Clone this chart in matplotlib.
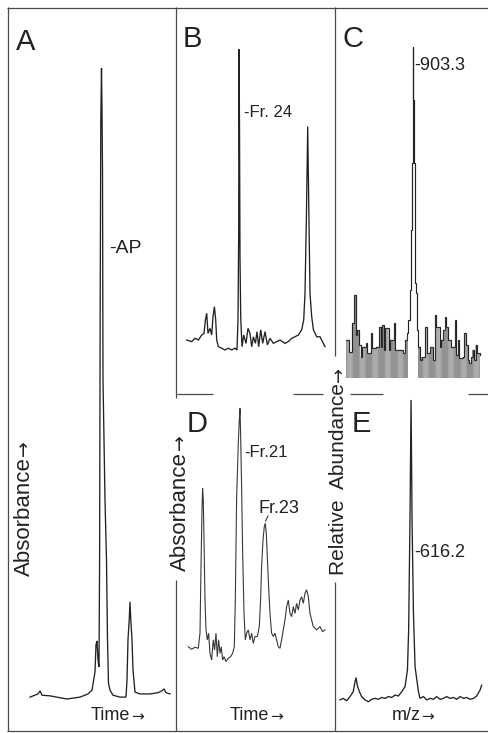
import matplotlib
matplotlib.use("Agg")
import matplotlib.pyplot as plt
import numpy as np

plt.rcParams["font.family"] = ["Liberation Sans", "DejaVu Sans"]

# ---- data -----------------------------------------------------------------
# A: HPLC trace, time (arb.) vs absorbance (% of AP peak)
a_time = [0, 8, 10, 12, 20, 30, 37, 50, 58, 62, 65, 66, 67, 68, 69, 69.6,
          70.2, 70.8, 71.5, 72, 72.5, 73, 75, 76.5, 77.5, 78.5, 80, 83, 90,
          96, 97, 98, 99.3, 100, 100.8, 102, 103, 105, 110, 120, 128, 132,
          134, 136, 140]
a_abs = [0.3, 0.8, 1.3, 0.6, 0.5, 0.2, 0, 0.3, 0.8, 1.4, 4.3, 8.6, 9.2, 6.2,
         5.1, 22.0, 63.2, 91.8, 100, 93.3, 83.8, 50.6, 31.5, 22.0, 9.4, 2.5,
         1.4, 0.6, 0.3, 0.3, 3.0, 9.4, 12.8, 15.4, 12.5, 9.4, 4.6, 1.1, 0.8,
         0.8, 1.0, 1.3, 1.6, 1.0, 0.8]

# B: rechromatography of the AP peak
b_time = [0, 5, 8.3, 11.7, 15, 17.3, 18.7, 20, 21.3, 23.3, 25, 26.3, 27.7,
          29, 30, 31.7, 35, 38.3, 41.7, 45, 48.3, 50.3, 51.3, 52, 52.3, 52.8,
          53.3, 54, 55.3, 57, 59.3, 61.3, 63.3, 65, 66.7, 68.7, 70.3, 72, 74,
          76, 78.3, 80.7, 83.3, 86.7, 90, 93.3, 98.3, 101.7, 105, 108.3,
          111.7, 115, 117, 118.3, 119.7, 121, 122, 123.3, 125, 126.7, 130,
          133.3, 135, 138.3]
b_abs = [3.3, 2.8, 3.9, 3.3, 5.0, 5.5, 10.0, 12.2, 5.5, 7.2, 5.0, 11.1, 14.4,
         10.0, 3.3, 1.1, 0.6, 0, 0.6, 0, 0.6, 0, 10.0, 38.8, 100, 74.3, 31.0,
         11.1, 1.1, 5.0, 2.2, 7.2, 5.5, 1.1, 4.4, 2.2, 6.1, 1.1, 6.7, 2.2, 6.1,
         1.7, 3.9, 2.2, 2.8, 3.3, 2.2, 2.8, 3.9, 4.4, 5.0, 6.7, 10.0, 18.8,
         44.3, 74.3, 49.9, 18.8, 11.1, 6.7, 4.4, 4.4, 3.3, 1.1]

# C: mass spectrum of Fr. 24 (upper envelope of the scan)
c_mz = [869.5, 871.1, 872.8, 873.6, 874.4, 875.3, 876.1, 877.0, 877.8, 879.5,
        880.3, 882.0, 882.8, 884.5, 886.1, 887.0, 887.8, 888.6, 889.5, 891.1,
        892.0, 893.6, 894.5, 896.1, 897.8, 898.6, 899.5, 900.3, 901.1, 902.0,
        902.5, 903.0, 903.3, 903.6, 904.0, 904.5, 905.0, 905.6, 906.1, 907.0,
        907.8, 909.5, 910.3, 912.0, 913.6, 914.5, 915.3, 917.0, 917.8, 918.6,
        919.5, 920.3, 921.1, 922.8, 924.5, 925.3, 926.1, 927.0, 928.6, 929.5,
        930.3, 931.1, 932.0, 932.8, 933.6, 934.5, 935.3, 936.1, 937.4]
c_int = [11.5, 7.8, 16.6, 25.1, 13.0, 14.5, 10.0, 6.3, 9.4, 10.6, 7.5, 13.6,
         9.1, 9.4, 15.4, 9.4, 16.0, 8.5, 15.1, 8.5, 11.5, 16.6, 8.5, 8.5, 8.5,
         7.5, 11.5, 13.6, 17.5, 26.6, 44.7, 64.9, 100, 83.9, 64.9, 28.7, 25.7,
         14.5, 9.4, 5.4, 6.3, 15.4, 7.5, 9.4, 5.4, 19.0, 15.4, 9.4, 11.5, 14.5,
         18.4, 15.4, 11.5, 9.4, 17.5, 6.9, 11.5, 6.0, 6.3, 13.6, 10.0, 5.4,
         4.5, 6.3, 8.5, 5.4, 10.0, 7.5, 6.9]

# D: second HPLC run
d_time = [0, 3.3, 6.7, 10, 11.7, 12.7, 13.7, 14.3, 15, 15.7, 16.7, 17.7, 19,
          20.3, 21.7, 23.3, 25, 26.3, 27.7, 29, 30.3, 31.7, 33, 34.3, 35.7,
          37.7, 40, 42.3, 44.3, 46, 47, 48.3, 50, 51, 51.7, 52.3, 53.3, 54.3,
          55.7, 57, 58.3, 60, 61.7, 63.3, 65, 66.7, 69, 71, 72.3, 73.3, 74.7,
          76, 77, 78, 79, 80.3, 81.7, 83.3, 85, 86.7, 88.3, 90, 91.7, 93.3, 95,
          96.7, 98.3, 100, 101.7, 103.3, 105, 106.7, 108.3, 110, 111.7, 113.3,
          115, 116.7, 118.3, 120, 121.7, 123.3, 125, 128.3, 131.7, 134.3,
          136.7]
d_abs = [6.5, 5.5, 6.3, 5.9, 11.8, 37.9, 60.1, 68.6, 64.1, 48.4, 24.8, 13.1,
         9.2, 11.8, 3.9, 1.3, 9.2, 5.2, 11.8, 2.6, 9.2, 3.9, 6.5, 1.3, 2.6,
         0.7, 2.0, 2.6, 3.9, 6.5, 24.8, 64.1, 86.3, 95.4, 100, 90.2, 69.3,
         44.4, 19.6, 9.2, 11.8, 13.1, 9.2, 11.8, 7.8, 10.5, 10.5, 14.4, 24.8,
         37.9, 48.4, 53.6, 54.9, 51.0, 41.8, 30.1, 19.6, 11.8, 10.5, 11.8, 9.2,
         6.5, 5.9, 9.2, 13.1, 17.0, 22.2, 24.8, 19.6, 18.3, 22.2, 19.6, 23.5,
         20.9, 24.8, 26.1, 23.5, 27.5, 28.8, 26.1, 19.6, 17.0, 14.4, 13.1,
         14.4, 12.4, 13.1]

# E: mass spectrum of Fr. 21
e_mz = [580.7, 582.3, 584.0, 585.7, 587.3, 588.2, 588.7, 589.3, 590.4, 591.5,
        593.2, 594.9, 596.5, 598.2, 599.9, 601.5, 603.2, 604.9, 606.5, 608.2,
        609.9, 611.5, 613.2, 614.4, 615.0, 615.7, 616.2, 616.7, 617.4, 618.2,
        619.1, 619.9, 620.7, 622.4, 624.0, 625.7, 627.4, 629.0, 630.7, 632.4,
        634.0, 635.7, 637.4, 639.0, 640.7, 642.4, 644.0, 645.7, 647.4, 649.0,
        650.7, 651.5]
e_int = [0.6, 1.1, 0.3, 1.7, 3.3, 6.6, 8.0, 5.5, 3.3, 1.7, 0.6, 0, 0.8, 1.1,
         0.8, 1.4, 1.1, 1.7, 1.4, 2.2, 1.9, 3.3, 5.0, 10.5, 23.8, 62.4, 100,
         60.2, 29.3, 11.6, 7.2, 3.3, 1.1, 1.7, 0.6, 1.1, 0.8, 1.7, 0.8, 1.1,
         1.7, 1.1, 1.4, 0.8, 1.7, 1.1, 1.4, 0.8, 1.1, 1.9, 3.9, 5.5]

W, H = 489, 733
INK = "#222222"
RULE = "#4a4a4a"

fig = plt.figure(figsize=(W / 100, H / 100), dpi=100)
fig.patch.set_facecolor("white")

# overlay in pixel units for frame rules and lettering
frame = fig.add_axes([0, 0, 1, 1])
frame.set_xlim(0, W)
frame.set_ylim(H, 0)
frame.set_axis_off()
frame.patch.set_alpha(0)
renderer = fig.canvas.get_renderer()


def px_axes(x0, y0, x1, y1):
    ax = fig.add_axes([x0 / W, 1 - y1 / H, (x1 - x0) / W, (y1 - y0) / H])
    ax.set_axis_off()
    ax.patch.set_alpha(0)
    return ax


def trace(ax, x, y, **kw):
    ax.plot(x, y, color=kw.pop("color", INK), lw=kw.pop("lw", 0.95),
            solid_joinstyle="miter", clip_on=False, **kw)
    ax.set_xlim(x[0], x[-1])
    ax.set_ylim(0, 100)


def arrow_label(xc, yc, word, size, vertical=False, gap=2):
    rot = 90 if vertical else 0
    t = frame.text(0, 0, word, fontsize=size, color=INK, rotation=rot)
    a = frame.text(0, 0, "→", fontsize=size * 0.85, color=INK, rotation=rot,
                   family="DejaVu Sans")
    wb = t.get_window_extent(renderer)
    ab = a.get_window_extent(renderer)
    if vertical:
        total = wb.height + gap + ab.height
        bottom = yc + total / 2
        t.set_position((xc, bottom))
        t.set_ha("center"); t.set_va("bottom")
        a.set_position((xc, bottom - wb.height - gap))
        a.set_ha("center"); a.set_va("bottom")
    else:
        total = wb.width + gap + ab.width
        left = xc - total / 2
        t.set_position((left, yc))
        t.set_ha("left"); t.set_va("center")
        a.set_position((left + wb.width + gap, yc + 0.5))
        a.set_ha("left"); a.set_va("center")


axA = px_axes(30, 68, 170, 699)
trace(axA, a_time, a_abs)

axB = px_axes(186.7, 49.3, 325, 350)
trace(axB, b_time, b_abs)

axC = px_axes(343, 46.7, 481, 378)
trace(axC, c_mz, c_int, drawstyle="steps-post", lw=0.85)
# dense vertical hatching of the noise scan
grid = np.arange(c_mz[0] + 0.4, c_mz[-1], 0.55)
idx = np.searchsorted(c_mz, grid, side="right") - 1
tops = np.asarray(c_int)[idx]
keep = (grid < 901.0) | (grid > 906.0)
axC.vlines(grid[keep], 0, tops[keep], color="#3c3c3c", lw=0.4,
           clip_on=False, snap=False)
axC.set_xlim(c_mz[0] - 1.5, c_mz[-1] + 0.5)

axD = px_axes(188.3, 408.3, 325, 663.3)
trace(axD, d_time, d_abs, color="#383838", lw=0.8)

axE = px_axes(340, 400, 481.7, 701.7)
trace(axE, e_mz, e_int)

# frame rules (broken where the axis titles sit)
rules = [
    ((7, 489), (7.5, 7.5)),
    ((7.5, 7.5), (7, 731)),
    ((7, 489), (731, 731)),
    ((176, 176), (7, 398)),
    ((176, 176), (580, 731)),
    ((335, 335), (7, 356)),
    ((335, 335), (582, 731)),
    ((177, 213), (394, 394)),
    ((293, 323), (394, 394)),
    ((350, 383), (394, 394)),
    ((468, 489), (394, 394)),
]
for xs, ys in rules:
    frame.plot(xs, ys, color=RULE, lw=0.9, solid_capstyle="butt")

# panel letters
for letter, x, y in [("A", 16, 50), ("B", 183, 47), ("C", 342, 47),
                     ("D", 187, 432), ("E", 352, 432)]:
    frame.text(x, y, letter, fontsize=21, color=INK, va="baseline")

# peak labels
frame.text(109, 253, "-AP", fontsize=14, color=INK, va="baseline")
frame.text(244, 117, "-Fr. 24", fontsize=12, color=INK, va="baseline")
frame.text(414, 70, "-903.3", fontsize=13, color=INK, va="baseline")
frame.text(244, 457, "-Fr.21", fontsize=12, color=INK, va="baseline")
frame.text(259, 513, "Fr.23", fontsize=13, color=INK, va="baseline")
frame.plot([265.5, 268], [521, 516], color=INK, lw=0.7)
frame.text(414, 557, "-616.2", fontsize=13, color=INK, va="baseline")

# axis titles
arrow_label(24, 508, "Absorbance", 16, vertical=True)
arrow_label(180, 503, "Absorbance", 16, vertical=True)
arrow_label(339, 471, "Relative  Abundance", 15, vertical=True)
arrow_label(117, 716, "Time", 13, gap=1)
arrow_label(256, 716, "Time", 13, gap=1)
arrow_label(413, 716, "m/z", 13, gap=1)

fig.savefig("out.png", dpi=100)
